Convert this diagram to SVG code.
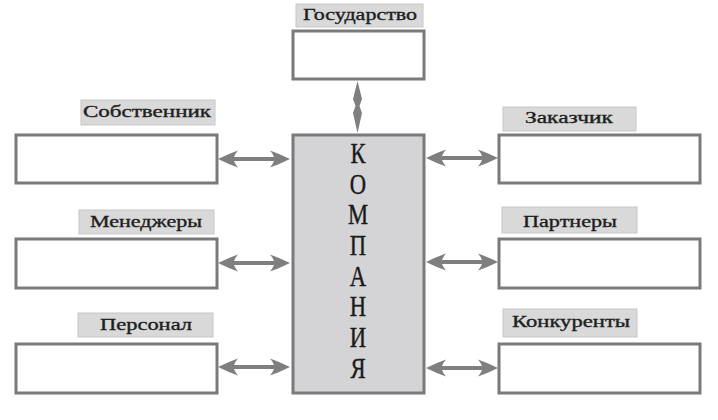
<svg xmlns="http://www.w3.org/2000/svg" width="718" height="420" viewBox="0 0 718 420">
<style>
.box{fill:#fff;stroke:#7a7a7a;stroke-width:3}
.lbl{fill:#d9d9d9;stroke:#c8c8c8;stroke-width:1}
.lt{font-family:"Liberation Serif","DejaVu Serif",serif;font-size:16px;fill:#1e1e1e;stroke:#1e1e1e;stroke-width:0.35}
.big{font-family:"Liberation Serif","DejaVu Serif",serif;font-size:29px;fill:#1a1a1a;stroke:#1a1a1a;stroke-width:0.4;text-anchor:middle}
.arr{fill:#7f7f7f}
</style>
<defs>
<path id="harr" class="arr" d="M0,0 Q10,-5 20,-8.5 Q17,-5 16,-2 L56,-2 Q55,-5 52,-8.5 Q62,-5 72,0 Q62,5 52,8.5 Q55,5 56,2 L16,2 Q17,5 20,8.5 Q10,5 0,0 Z"/>
</defs>
<rect width="718" height="420" fill="#fff"/>
<g id="connectors">
<use href="#harr" transform="translate(218,159)"/>
<use href="#harr" transform="translate(218,263)"/>
<use href="#harr" transform="translate(218,367)"/>
<use href="#harr" transform="translate(426,158)"/>
<use href="#harr" transform="translate(426,262)"/>
<use href="#harr" transform="translate(426,368)"/>
<polygon class="arr" points="357.5,81 362,99 359.5,106 362,113 357.5,133 353,113 355.5,106 353,99"/>
</g>
<g id="company">
<rect x="293" y="135" width="131" height="258" fill="#d4d4d6" stroke="#7a7a7a" stroke-width="3"/>
<g transform="translate(358,0) scale(0.78,1)">
<text class="big" x="0" y="163">К</text>
<text class="big" x="0" y="194">О</text>
<text class="big" x="0" y="224">М</text>
<text class="big" x="0" y="255">П</text>
<text class="big" x="0" y="286">А</text>
<text class="big" x="0" y="316">Н</text>
<text class="big" x="0" y="347">И</text>
<text class="big" x="0" y="378">Я</text>
</g>
</g>
<g id="gosudarstvo">
<rect class="lbl" x="296" y="4" width="127" height="23"/>
<text class="lt" x="303" y="20" textLength="114" lengthAdjust="spacingAndGlyphs">Государство</text>
<rect class="box" x="293" y="31" width="131" height="48"/>
</g>
<g id="sobstvennik">
<rect class="lbl" x="81" y="100" width="134" height="25"/>
<text class="lt" x="83" y="117" textLength="128" lengthAdjust="spacingAndGlyphs">Собственник</text>
<rect class="box" x="16" y="135" width="201" height="48"/>
</g>
<g id="menedzhery">
<rect class="lbl" x="79" y="210" width="135" height="24"/>
<text class="lt" x="90" y="227" textLength="112" lengthAdjust="spacingAndGlyphs">Менеджеры</text>
<rect class="box" x="16" y="239" width="201" height="49"/>
</g>
<g id="personal">
<rect class="lbl" x="78" y="313" width="135" height="24"/>
<text class="lt" x="100" y="330" textLength="92" lengthAdjust="spacingAndGlyphs">Персонал</text>
<rect class="box" x="16" y="344" width="201" height="49"/>
</g>
<g id="zakazchik">
<rect class="lbl" x="503" y="107" width="133" height="24"/>
<text class="lt" x="525" y="123" textLength="88" lengthAdjust="spacingAndGlyphs">Заказчик</text>
<rect class="box" x="499" y="135" width="201" height="48"/>
</g>
<g id="partnery">
<rect class="lbl" x="502" y="207" width="135" height="26"/>
<text class="lt" x="523" y="227" textLength="94" lengthAdjust="spacingAndGlyphs">Партнеры</text>
<rect class="box" x="499" y="239" width="201" height="49"/>
</g>
<g id="konkurenty">
<rect class="lbl" x="503" y="309" width="134" height="28"/>
<text class="lt" x="512" y="327" textLength="118" lengthAdjust="spacingAndGlyphs">Конкуренты</text>
<rect class="box" x="499" y="344" width="201" height="49"/>
</g>
</svg>
